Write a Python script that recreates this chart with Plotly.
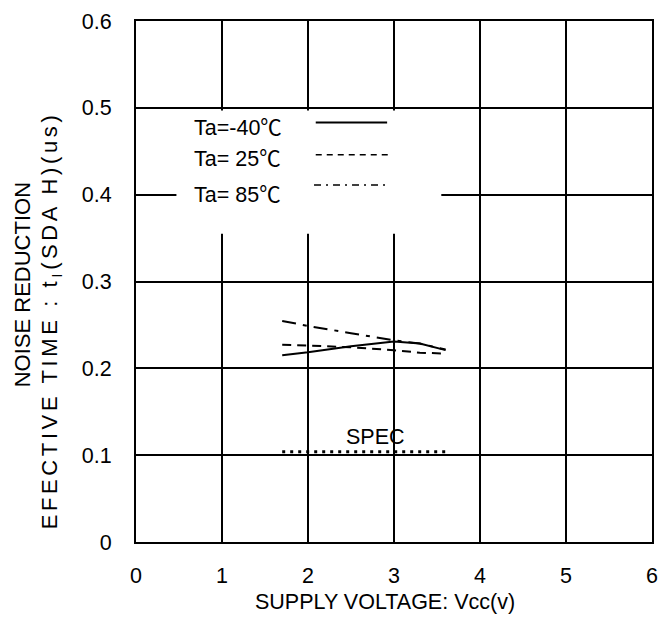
import plotly.graph_objects as go

# Data
vcc = [1.7, 2.0, 2.5, 3.0, 3.3, 3.6]
t_m40 = [0.215, 0.2185, 0.2255, 0.231, 0.2285, 0.221]
t_25 = [0.2273, 0.2262, 0.2243, 0.2208, 0.218, 0.217]
t_85 = [0.2546, 0.2488, 0.2405, 0.2323, 0.2285, 0.2216]
spec_vcc = [1.7, 3.6]
spec_val = [0.104, 0.104]

x_ticks = [0, 1, 2, 3, 4, 5, 6]
y_ticks = [0, 0.1, 0.2, 0.3, 0.4, 0.5, 0.6]
y_ticklabels = ["0", "0.1", "0.2", "0.3", "0.4", "0.5", "0.6"]
legend_temps = ["Ta=-40", "Ta= 25", "Ta= 85"]

FONT = "Liberation Sans, Arial, Noto Sans CJK JP, sans-serif"
CJK = "Noto Sans CJK JP"
FS = 21.5

fig = go.Figure()
fig.add_trace(go.Scatter(x=vcc, y=t_m40, mode="lines",
                         line=dict(color="black", width=2, dash="solid")))
fig.add_trace(go.Scatter(x=vcc, y=t_25, mode="lines",
                         line=dict(color="black", width=2, dash="9px,6px")))
fig.add_trace(go.Scatter(x=vcc, y=t_85, mode="lines",
                         line=dict(color="black", width=2, dash="14px,7px,4px,7px")))
fig.add_trace(go.Scatter(x=spec_vcc, y=spec_val, mode="lines",
                         line=dict(color="black", width=3, dash="3px,5px")))

shapes = [
    # white legend background covering grid
    dict(type="rect", xref="x", yref="y", x0=0.47, x1=3.55, y0=0.355, y1=0.497,
         fillcolor="white", line=dict(width=0), layer="between"),
    # legend samples
    dict(type="line", xref="x", yref="y", x0=2.09, x1=2.92, y0=0.483, y1=0.483,
         line=dict(color="black", width=2)),
    dict(type="line", xref="x", yref="y", x0=2.09, x1=2.94, y0=0.446, y1=0.446,
         line=dict(color="black", width=1.5, dash="6px,5px")),
    dict(type="line", xref="x", yref="y", x0=2.07, x1=2.92, y0=0.411, y1=0.411,
         line=dict(color="black", width=1.5, dash="7px,5px,2px,5px")),
]

annotations = []
for lab, yy in zip(legend_temps, [0.480, 0.4435, 0.402]):
    annotations.append(dict(x=0.655, y=yy, xref="x", yref="y",
                            text=lab + "<span style='font-family:" + CJK + "'>\u2103</span>",
                            showarrow=False, xanchor="left", yanchor="middle",
                            font=dict(family=FONT, size=FS, color="black")))
annotations.append(dict(x=2.78, y=0.1213, xref="x", yref="y", text="SPEC",
                        showarrow=False, xanchor="center", yanchor="middle",
                        font=dict(family=FONT, size=FS, color="black")))
annotations.append(dict(x=0.483, y=-0.1152, xref="paper", yref="paper",
                        text="SUPPLY VOLTAGE: Vcc(v)", showarrow=False,
                        xanchor="center", yanchor="middle",
                        font=dict(family=FONT, size=FS, color="black")))
annotations.append(dict(x=-0.2184, y=0.4933, xref="paper", yref="paper",
                        text="NOISE REDUCTION", showarrow=False, textangle=-90,
                        xanchor="center", yanchor="middle",
                        font=dict(family=FONT, size=22, color="black")))
annotations.append(dict(x=-0.1648, y=0.426, xref="paper", yref="paper",
                        text="EFECTIVE TIME : t<sub>I</sub>(SDA H)(us)", showarrow=False,
                        textangle=-90, xanchor="center", yanchor="middle",
                        font=dict(family=FONT, size=22, color="black")))

fig.update_layout(
    width=666, height=636,
    margin=dict(l=136, r=8, t=21, b=94),
    paper_bgcolor="white", plot_bgcolor="white",
    showlegend=False,
    shapes=shapes, annotations=annotations,
    font=dict(family=FONT, size=FS, color="black"),
)
fig.update_xaxes(range=[0, 6], tickvals=x_ticks, ticktext=[str(v) for v in x_ticks],
                 showgrid=True, gridcolor="black", gridwidth=2,
                 showline=True, linecolor="black", linewidth=2, mirror=True,
                 ticks="", zeroline=False, ticklabelstandoff=13,
                 tickfont=dict(family=FONT, size=FS, color="black"))
fig.update_yaxes(range=[0, 0.6], tickvals=y_ticks, ticktext=y_ticklabels,
                 showgrid=True, gridcolor="black", gridwidth=2,
                 showline=True, linecolor="black", linewidth=2, mirror=True,
                 ticks="", zeroline=False, ticklabelstandoff=18,
                 tickfont=dict(family=FONT, size=FS, color="black"))

post = """
document.body.style.margin = '0';
document.body.style.overflow = 'hidden';
var gd = document.getElementById('{plot_id}');
gd.querySelectorAll('text.annotation-text').forEach(function (t) {
  if (t.textContent.indexOf('EFECTIVE') === 0) { t.style.letterSpacing = '3.6px'; }
});
"""

fig.write_html("out.html", post_script=post, config={"displayModeBar": False})
